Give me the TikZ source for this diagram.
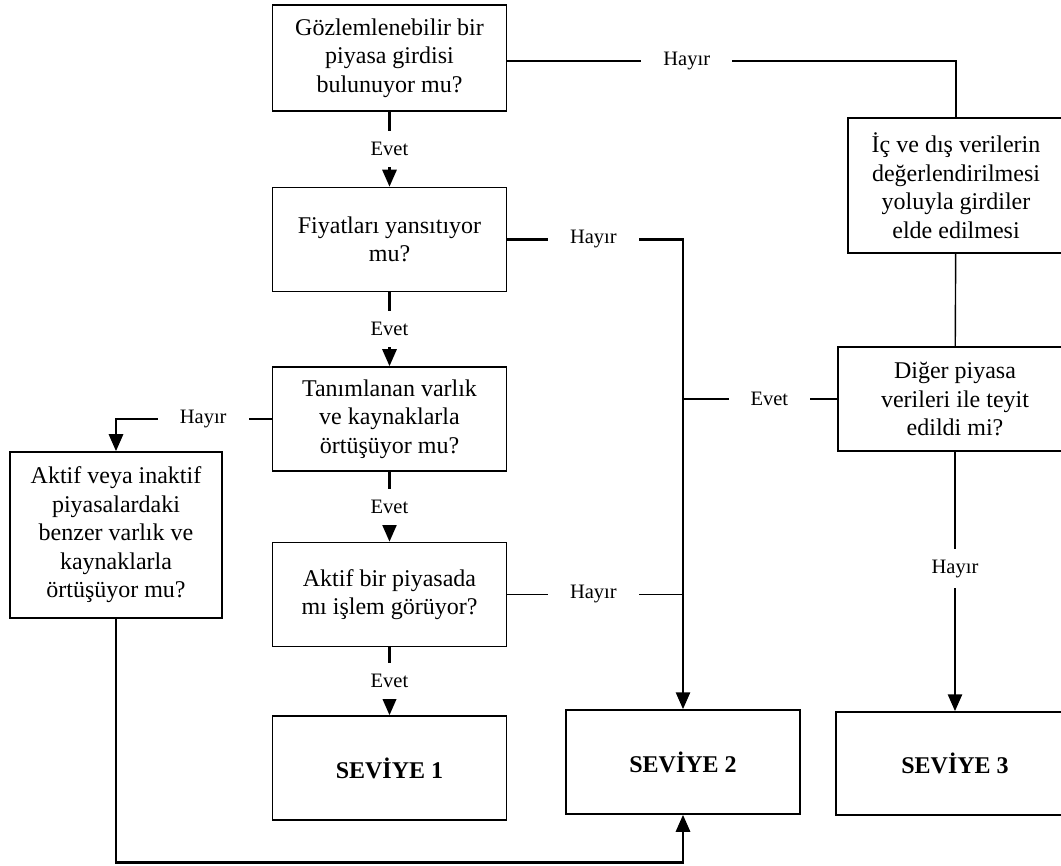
\documentclass[tikz,border=0pt]{standalone}
\usepackage{fontspec}
\setmainfont{Liberation Serif}
\usepackage{tikz}
\usetikzlibrary{positioning}
\usetikzlibrary{arrows.meta}
\tikzstyle{block} = [draw, rectangle, line width=1.5pt, align=center, minimum width=234pt, minimum height=104pt, font=\fontsize{24}{28.5}\selectfont]
\tikzstyle{level} = [block, font=\fontsize{24}{28.5}\selectfont\bfseries]
\tikzstyle{lbl} = [fill=white, inner xsep=22pt, inner ysep=11pt, font=\fontsize{20.5}{24}\selectfont]
\tikzstyle{wire} = [line width=1.4pt]
\tikzstyle{trunk} = [line width=2.8pt]
\tikzstyle{flow} = [trunk, -{Triangle[width=14pt,length=17pt]}]

\begin{document}
\begin{tikzpicture}[x=1pt,y=-1pt]
    \clip (0,0) rectangle (1061,866);
    \node [block, minimum height=106pt] (girdi) at (389.5,58) {Gözlemlenebilir bir\\piyasa girdisi\\bulunuyor mu?};
    \node [block, below=75pt of girdi] (fiyat) {Fiyatları yansıtıyor\\mu?};
    \node [block, below=74pt of fiyat] (tanim) {Tanımlanan varlık\\ve kaynaklarla\\örtüşüyor mu?};
    \node [block, below=70pt of tanim] (aktif) {Aktif bir piyasada\\mı işlem görüyor?};
    \node [level, below=68pt of aktif] (sev1) {SEVİYE 1};
    \node [block, minimum width=212pt, minimum height=166pt] (benzer) at (116,535) {Aktif veya inaktif\\piyasalardaki\\benzer varlık ve\\kaynaklarla\\örtüşüyor mu?};
    \node [level] (sev2) at (683,762) {SEVİYE 2};
    \node [block, minimum width=216pt, minimum height=135pt] (icdis) at (956,185.5) {İç ve dış verilerin\\değerlendirilmesi\\yoluyla girdiler\\elde edilmesi};
    \node [block] (diger) at (955,399) {Diğer piyasa\\verileri ile teyit\\edildi mi?};
    \node [level, minimum width=238pt, minimum height=103pt] (sev3) at (955,763.5) {SEVİYE 3};

    \draw [flow] (girdi) -- node[lbl] {Evet} (fiyat); % evet
    \draw [flow] (fiyat) -- node[lbl] {Evet} (tanim);
    \draw [flow] (tanim) -- node[lbl] {Evet} (aktif);
    \draw [flow] (aktif) -- node[lbl] {Evet} (sev1);

    \draw [wire] ([yshift=-3pt]girdi.east) -| node[lbl,pos=0.2] {Hayır} (icdis.north); % hayir
    \draw [flow] (fiyat.east) -| node[lbl,pos=0.245] {Hayır} (sev2.north);
    \draw [flow] (tanim.west) -| node[lbl,pos=0.22] {Hayır} (benzer.north);
    \draw [wire] (aktif.east) -- node[lbl,pos=0.49] {Hayır} (aktif.east -| sev2.north);
    \draw [wire] (icdis) -- (diger);
    \draw [wire] (diger.west) -- node[lbl,pos=0.44] {Evet} (diger.west -| sev2.north);
    \draw [flow] (diger) -- node[lbl,pos=0.45] {Hayır} (sev3);
    \draw [flow] (benzer.south) |- ([yshift=-48pt]sev2.south) -- (sev2.south);
\end{tikzpicture}
\end{document}
